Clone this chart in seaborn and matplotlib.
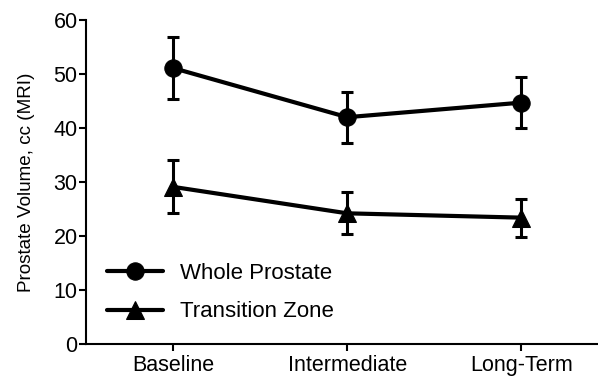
import matplotlib
matplotlib.use("Agg")
import matplotlib.pyplot as plt
import seaborn as sns
import pandas as pd
import numpy as np

categories = ["Baseline", "Intermediate", "Long-Term"]
whole_mean = [51.1, 42.0, 44.7]
whole_err = [5.8, 4.7, 4.7]
tz_mean = [29.1, 24.2, 23.4]
tz_err = [4.9, 3.9, 3.5]
series_names = ["Whole Prostate", "Transition Zone"]
y_ticks = [0, 10, 20, 30, 40, 50, 60]

sns.set_theme(style="ticks")
plt.rcParams['font.family'] = ['Liberation Sans', 'DejaVu Sans']

pos = np.arange(len(categories))
df = pd.DataFrame({
    "pos": np.concatenate([pos, pos]),
    "value": whole_mean + tz_mean,
    "err": whole_err + tz_err,
    "series": [series_names[0]] * 3 + [series_names[1]] * 3,
})

fig = plt.figure(figsize=(5.98, 3.76), dpi=100)
ax = fig.add_axes([0.1438, 0.0851, 0.8562, 0.8617])

sns.lineplot(data=df, x="pos", y="value", hue="series", style="series",
             markers={series_names[0]: "o", series_names[1]: "^"},
             dashes=False, palette=["black", "black"], linewidth=3,
             markersize=12.5, markeredgecolor="black", ax=ax, zorder=3)

for name in series_names:
    sub = df[df["series"] == name]
    ax.errorbar(sub["pos"], sub["value"], yerr=sub["err"], fmt="none",
                ecolor="black", elinewidth=2.2, capsize=4, capthick=2.2, zorder=2)

ax.set_xlim(-0.5, 2.44)
ax.set_ylim(0, 60)
ax.set_yticks(y_ticks)
ax.set_xticks(pos)
ax.set_xticklabels(categories)
ax.tick_params(axis="both", labelsize=15.5, width=1.5, length=5, color="black", labelcolor="black")
ax.tick_params(axis="y", pad=1)
ax.tick_params(axis="x", pad=3)
ax.set_xlabel("")
ax.set_ylabel("Prostate Volume, cc (MRI)", fontsize=13.6, color="black", labelpad=13)
for s in ["left", "bottom"]:
    ax.spines[s].set_linewidth(1.5)
    ax.spines[s].set_color("black")
sns.despine(ax=ax)

handles, labels = ax.get_legend_handles_labels()
leg = ax.legend(handles, labels, loc="lower left", bbox_to_anchor=(0.002, 0.005),
                frameon=False, fontsize=16, handlelength=2.5, handletextpad=0.8,
                labelspacing=0.8, borderpad=0.4)
for t in leg.get_texts():
    t.set_color("black")

fig.savefig("out.png", dpi=100)
